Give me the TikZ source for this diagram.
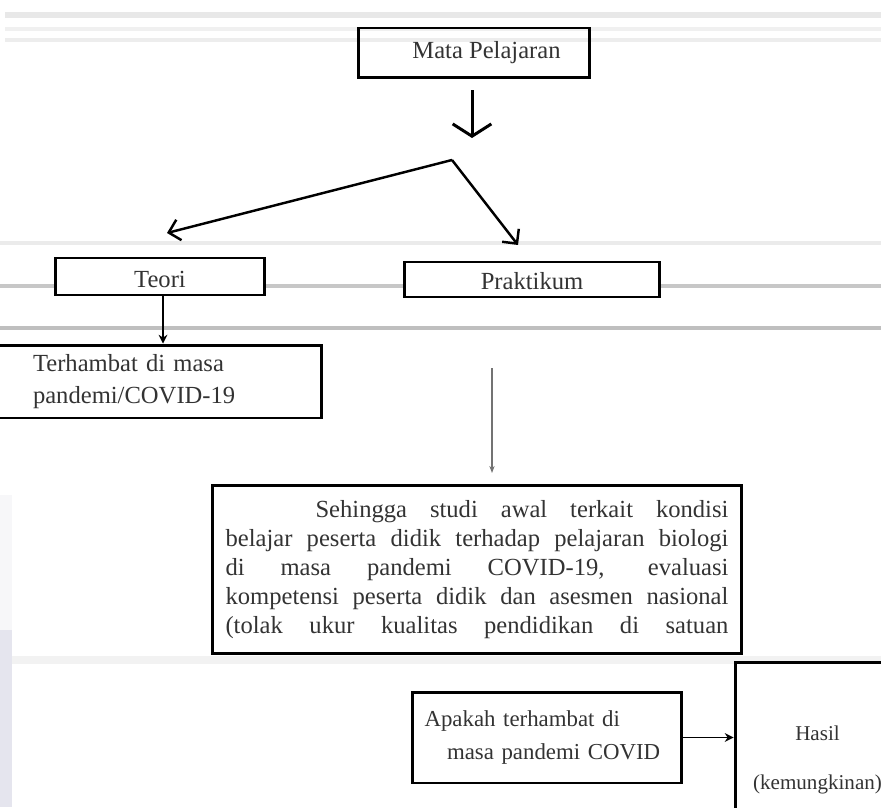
\documentclass[tikz,border=0pt]{standalone}
\usepackage{fontspec}
\setmainfont{Liberation Serif}
\usetikzlibrary{positioning,calc,arrows.meta}

\begin{document}
\begin{tikzpicture}[
	x=0.02cm, y=-0.02cm,
	kotak/.style={draw, line width=1.7pt, inner sep=0pt, text=black!80,
		font=\fontsize{14}{16.6}\selectfont},
	panah tebal/.style={line width=1.7pt, -{Straight Barb[length=7pt,width=22pt]}},
	cabang line/.style={line width=1.4pt, -{Straight Barb[length=6pt,width=12pt]}},
	panah kecil/.style={line width=1pt, -{Stealth[length=5pt,width=5pt]}},
	garis tipis/.style={draw=black!55, line width=0.9pt, -{Stealth[length=4pt,width=3pt]}},
	latar/.style={black!9, line width=2pt}
	]
	\useasboundingbox (0,0) rectangle (881,807);
	\clip (0,0) rectangle (881,807);
	% latar
	\draw[latar, line width=3.5pt] (5,15) -- (881,15);
	\draw[latar, black!6] (5,29) -- (881,29);
	\draw[latar, black!7] (5,40) -- (881,40);
	\draw[latar, black!8] (0,243) -- (881,243);
	\draw[latar, black!22] (0,286) -- (881,286);
	\draw[latar, black!25] (0,328) -- (881,328);
	\draw[latar, black!5, line width=4pt] (12,660) -- (881,660);
	\fill[blue!20!black!3] (0,495) rectangle (12,630);
	\fill[blue!35!black!10] (0,630) rectangle (12,807);
	% boxes
	\node[kotak, minimum width=4.64cm, minimum height=1cm] (mapel) at (474,53)
	{\hspace*{0.5cm}Mata Pelajaran};
	\node[kotak, fill=white, minimum width=4.2cm, minimum height=0.74cm, text height=13pt]
	(teori) at (160,276.5) {Teori};
	\node[kotak, fill=white, minimum width=5.1cm, minimum height=0.7cm, text height=12pt]
	(praktikum) at (532,279.5) {Praktikum};
	\node[kotak, minimum width=6.84cm, minimum height=1.46cm, text width=4.72cm, align=left]
	(terhambat) at (151,381.5) {Terhambat di masa\\[2pt] pandemi/COVID-19};
	\node[kotak, minimum width=10.6cm, minimum height=3.38cm, text width=10.06cm, align=justify]
	(sebab) at (477,569.5)
	{\hspace*{1.8cm}Sehingga studi awal terkait kondisi\linebreak
	belajar peserta didik terhadap pelajaran biologi\linebreak
	di masa pandemi COVID-19, evaluasi\linebreak
	kompetensi peserta didik dan asesmen nasional\linebreak
	\makebox[\linewidth][s]{(tolak ukur kualitas pendidikan di satuan}};
	\node[kotak, minimum width=5.4cm, minimum height=1.82cm, text width=4.9cm, align=left,
	font=\fontsize{13}{15.5}\selectfont]
	(tanya) at (547,737.5) {Apakah terhambat di\\[3pt] \hspace*{0.45cm}masa pandemi COVID};
	\node[kotak, minimum width=3.3cm, minimum height=3.92cm, align=center,
	font=\fontsize{12}{14}\selectfont] (hasil) at (817.5,760) {Hasil\\[14pt](kemungkinan)};
	% arrows
	\coordinate (ujungatas) at (472,138);
	\coordinate (cabang) at (452,160);
	\coordinate (ujungkiri) at (167,233);
	\coordinate (ujungkanan) at (518,245);
	\coordinate (garisatas) at (492,368);
	\draw[panah tebal, shorten <=6pt] (mapel.south -| ujungatas) -- (ujungatas);
	\draw[cabang line] (cabang) -- (ujungkiri);
	\draw[cabang line] (cabang) -- (ujungkanan);
	\draw[panah kecil] (teori.south -| 163,0) -- (terhambat.north -| 163,0);
	\draw[garis tipis, shorten >=6pt] (garisatas) -- (garisatas |- sebab.north);
	\draw[panah kecil] (tanya.east) -- (tanya.east -| hasil.west);
\end{tikzpicture}
\end{document}
